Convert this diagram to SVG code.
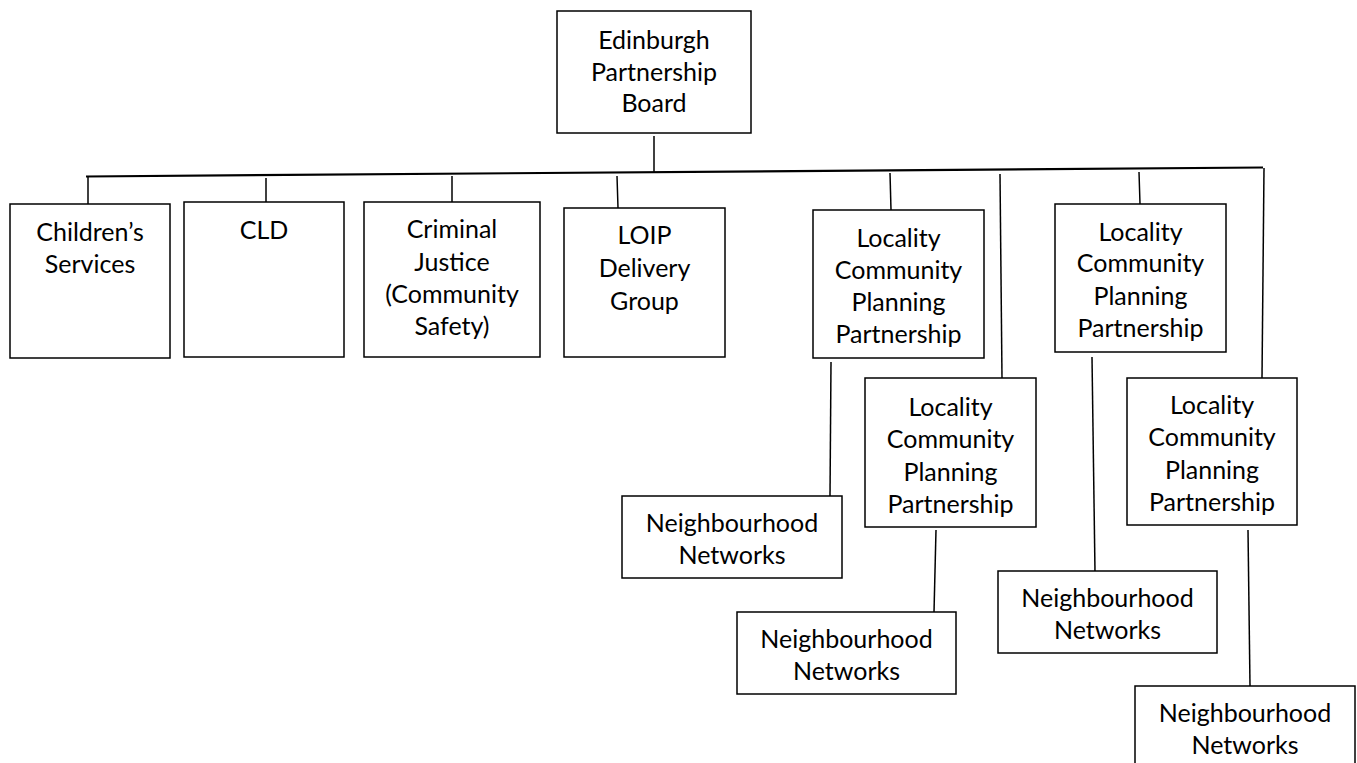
<svg xmlns="http://www.w3.org/2000/svg" width="1357" height="763" viewBox="0 0 1357 763">
<style>
.box{fill:#fff;stroke:#000;stroke-width:1.5}
.t{font-family:Lato,"Open Sans","Liberation Sans",sans-serif;font-size:25px;fill:#000;text-anchor:middle}
.c{stroke:#000;stroke-width:1.5;fill:none}
.bar{stroke:#000;stroke-width:2.2;fill:none}
</style>
<rect width="1357" height="763" fill="#fff"/>
<g id="connectors">
<line class="c" x1="654" y1="136" x2="654" y2="172"/>
<line class="bar" x1="86" y1="176.5" x2="1263" y2="167.5"/>
<line class="c" x1="88" y1="177" x2="88" y2="205"/>
<line class="c" x1="266" y1="178" x2="266" y2="203"/>
<line class="c" x1="452" y1="176" x2="452" y2="202"/>
<line class="c" x1="617" y1="176" x2="618" y2="208"/>
<line class="c" x1="890" y1="173" x2="891" y2="210"/>
<line class="c" x1="1000" y1="174" x2="1002" y2="378"/>
<line class="c" x1="1139" y1="172" x2="1140" y2="204"/>
<line class="c" x1="1264" y1="168" x2="1262" y2="378"/>
<line class="c" x1="831" y1="362" x2="830" y2="496"/>
<line class="c" x1="936" y1="530" x2="934" y2="612"/>
<line class="c" x1="1092" y1="357" x2="1095" y2="572"/>
<line class="c" x1="1248" y1="530" x2="1250" y2="686"/>
</g>
<g id="board">
<rect class="box" x="557" y="11" width="194" height="122"/>
<text class="t" x="654" y="49">Edinburgh</text>
<text class="t" x="654" y="80.5">Partnership</text>
<text class="t" x="654" y="112">Board</text>
</g>
<g id="childrens">
<rect class="box" x="10" y="204" width="160" height="154"/>
<text class="t" x="90" y="240.5">Children’s</text>
<text class="t" x="90" y="273">Services</text>
</g>
<g id="cld">
<rect class="box" x="184" y="202" width="160" height="155"/>
<text class="t" x="264" y="238.5">CLD</text>
</g>
<g id="criminal">
<rect class="box" x="364" y="202" width="176" height="155"/>
<text class="t" x="452" y="237.5">Criminal</text>
<text class="t" x="452" y="270.5">Justice</text>
<text class="t" x="452" y="302.5">(Community</text>
<text class="t" x="452" y="334.5">Safety)</text>
</g>
<g id="loip">
<rect class="box" x="564" y="208" width="161" height="149"/>
<text class="t" x="644.5" y="243.5">LOIP</text>
<text class="t" x="644.5" y="276.5">Delivery</text>
<text class="t" x="644.5" y="309.5">Group</text>
</g>
<g id="locality1">
<rect class="box" x="813" y="210" width="171" height="148"/>
<text class="t" x="898.5" y="246.5">Locality</text>
<text class="t" x="898.5" y="278.5">Community</text>
<text class="t" x="898.5" y="311">Planning</text>
<text class="t" x="898.5" y="343">Partnership</text>
</g>
<g id="locality2">
<rect class="box" x="865" y="378" width="171" height="149"/>
<text class="t" x="950.5" y="415.5">Locality</text>
<text class="t" x="950.5" y="447.5">Community</text>
<text class="t" x="950.5" y="480.5">Planning</text>
<text class="t" x="950.5" y="512.5">Partnership</text>
</g>
<g id="locality3">
<rect class="box" x="1055" y="204" width="171" height="148"/>
<text class="t" x="1140.5" y="240.5">Locality</text>
<text class="t" x="1140.5" y="272">Community</text>
<text class="t" x="1140.5" y="304.5">Planning</text>
<text class="t" x="1140.5" y="337">Partnership</text>
</g>
<g id="locality4">
<rect class="box" x="1127" y="378" width="170" height="147"/>
<text class="t" x="1212" y="413.5">Locality</text>
<text class="t" x="1212" y="446">Community</text>
<text class="t" x="1212" y="478.5">Planning</text>
<text class="t" x="1212" y="510.5">Partnership</text>
</g>
<g id="neighbourhood1">
<rect class="box" x="622" y="496" width="220" height="82"/>
<text class="t" x="732" y="532">Neighbourhood</text>
<text class="t" x="732" y="563.5">Networks</text>
</g>
<g id="neighbourhood2">
<rect class="box" x="737" y="612" width="219" height="82"/>
<text class="t" x="846.5" y="647.5">Neighbourhood</text>
<text class="t" x="846.5" y="679.5">Networks</text>
</g>
<g id="neighbourhood3">
<rect class="box" x="998" y="571" width="219" height="82"/>
<text class="t" x="1107.5" y="607">Neighbourhood</text>
<text class="t" x="1107.5" y="638.5">Networks</text>
</g>
<g id="neighbourhood4">
<rect class="box" x="1135" y="686" width="220" height="100"/>
<text class="t" x="1245" y="722">Neighbourhood</text>
<text class="t" x="1245" y="753.5">Networks</text>
</g>
</svg>
